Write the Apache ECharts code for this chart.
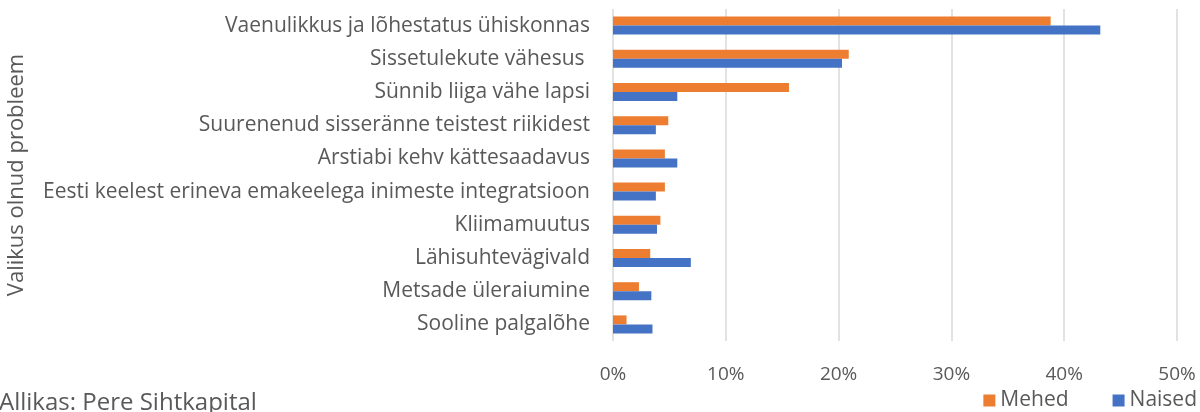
<!DOCTYPE html>
<html>
<head>
<meta charset="utf-8">
<script src="https://cdn.jsdelivr.net/npm/echarts@6/dist/echarts.min.js"></script>
<style>
  html, body { margin: 0; padding: 0; background: #fff; }
  #chart { width: 1200px; height: 412px; }
</style>
</head>
<body>
<div id="chart"></div>
<script>
// kategooriad (ülevalt alla)
const categories = [
  'Vaenulikkus ja lõhestatus ühiskonnas',
  'Sissetulekute vähesus ',
  'Sünnib liiga vähe lapsi',
  'Suurenenud sisseränne teistest riikidest',
  'Arstiabi kehv kättesaadavus',
  'Eesti keelest erineva emakeelega inimeste integratsioon',
  'Kliimamuutus',
  'Lähisuhtevägivald',
  'Metsade üleraiumine',
  'Sooline palgalõhe'
]
// osakaalud (0..1)
const mehed = [0.388, 0.209, 0.156, 0.049, 0.046, 0.046, 0.042, 0.033, 0.023, 0.012]
const naised = [0.432, 0.203, 0.057, 0.038, 0.057, 0.038, 0.039, 0.069, 0.034, 0.035]
const tickMax = 0.5

const textColor = '#595959'
const font = 'Open Sans'

const chart = echarts.init(document.getElementById('chart'))

chart.setOption({
  animation: false,
  textStyle: { fontFamily: font, color: textColor },
  title: {
    text: 'Allikas: Pere Sihtkapital',
    left: -1,
    top: 391,
    padding: 0,
    textStyle: { fontFamily: font, fontSize: 24, fontWeight: 'normal', color: textColor }
  },
  legend: {
    data: ['Mehed', 'Naised'],
    right: 3,
    top: 390,
    padding: 0,
    itemWidth: 12,
    itemHeight: 12,
    itemGap: 44,
    icon: 'rect',
    textStyle: { fontFamily: font, fontSize: 21, color: textColor }
  },
  grid: {
    left: 613,
    right: 23,
    top: 9,
    height: 332,
    outerBoundsMode: 'none'
  },
  xAxis: {
    type: 'value',
    min: 0,
    max: tickMax,
    interval: 0.1,
    axisLine: { show: false },
    axisTick: { show: false },
    splitLine: { lineStyle: { color: '#d9d9d9', width: 1.5 } },
    axisLabel: {
      margin: 24,
      fontSize: 19,
      color: textColor,
      formatter: (v) => Math.round(v * 100) + '%'
    }
  },
  yAxis: {
    type: 'category',
    data: categories,
    inverse: true,
    axisLine: { show: false },
    axisTick: { show: false },
    axisLabel: { margin: 23, fontSize: 21, color: textColor },
    name: 'Valikus olnud probleem',
    nameLocation: 'middle',
    nameRotate: 90,
    nameGap: 585,
    nameTextStyle: { fontSize: 22, color: textColor }
  },
  series: [
    {
      name: 'Mehed',
      type: 'bar',
      data: mehed,
      barWidth: 9,
      barGap: '0%',
      itemStyle: { color: '#ED7D31' }
    },
    {
      name: 'Naised',
      type: 'bar',
      data: naised,
      barWidth: 9,
      barGap: '0%',
      itemStyle: { color: '#4472C4' }
    }
  ]
})
</script>
</body>
</html>
